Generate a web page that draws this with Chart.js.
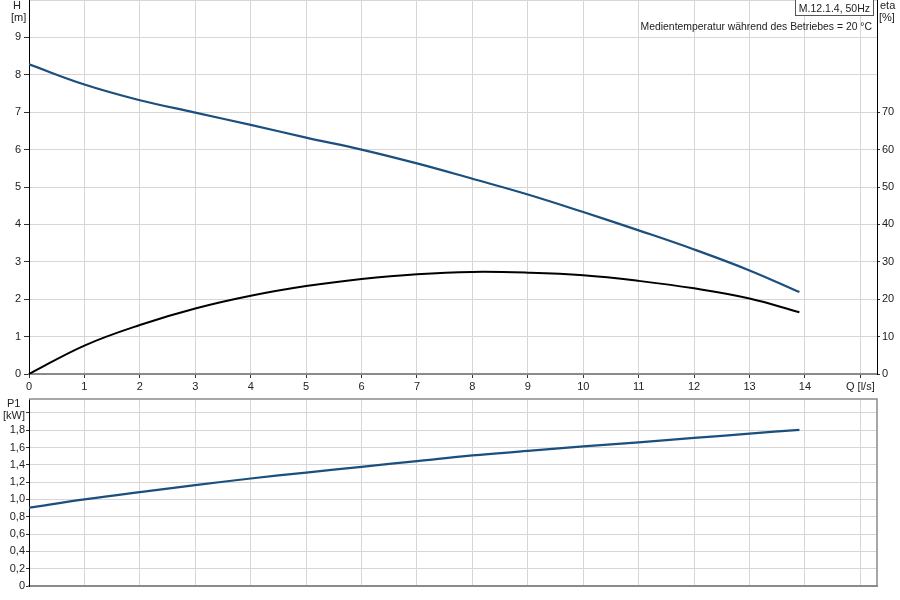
<!DOCTYPE html>
<html>
<head>
<meta charset="utf-8">
<script src="https://cdn.jsdelivr.net/npm/chart.js@4.4.0/dist/chart.umd.min.js"></script>
<style>
  html, body { margin: 0; padding: 0; background: #fff; }
  body { width: 900px; height: 600px; position: relative; overflow: hidden; font-family: "Liberation Sans", Arial, sans-serif; font-size: 11px; color: #222; }
  canvas { position: absolute; left: 0; }
  .lbl { position: absolute; white-space: nowrap; line-height: 11px; font-size: 11px; color: #222; }
  #box { position: absolute; right: 26px; top: -1px; height: 17px; padding: 0 3px; border: 1px solid #555; background: #fff; white-space: nowrap; line-height: 16px; font-size: 10.5px; color: #222; box-sizing: border-box; }
</style>
</head>
<body>
<canvas id="top" width="900" height="395" style="top:0"></canvas>
<canvas id="bot" width="900" height="210" style="top:390px"></canvas>

<div class="lbl" style="left:13px;top:0px">H</div>
<div class="lbl" style="left:11px;top:12px">[m]</div>
<div class="lbl" style="left:880px;top:0px">eta</div>
<div class="lbl" style="left:879px;top:12px">[%]</div>
<div id="box">M.12.1.4, 50Hz</div>
<div class="lbl" style="right:28px;top:21px;font-size:10.4px">Medientemperatur während des Betriebes = 20 °C</div>
<div class="lbl" style="left:7px;top:398px">P1</div>
<div class="lbl" style="left:3px;top:410px">[kW]</div>

<script>
// ---- data ----
const flowQ = [0, 1, 2, 3, 4, 5, 6, 7, 8, 9, 10, 11, 12, 13, 13.9];           // Q [l/s]
const headH = [8.28, 7.74, 7.32, 6.99, 6.66, 6.32, 6.0, 5.63, 5.22, 4.80, 4.33, 3.84, 3.33, 2.77, 2.19]; // H [m]
const effEta = [0, 7.6, 13.1, 17.5, 20.9, 23.5, 25.4, 26.7, 27.3, 27.1, 26.4, 24.9, 22.9, 20.2, 16.5]; // eta [%]
const powerP1 = [0.904, 1.0, 1.085, 1.165, 1.242, 1.31, 1.377, 1.442, 1.508, 1.56, 1.612, 1.66, 1.71, 1.76, 1.804]; // P1 [kW]
const etaTickLabels = [0, 10, 20, 30, 40, 50, 60, 70];

const FONT = { family: '"Liberation Sans", Arial, sans-serif', size: 11 };
const GRID = '#d6d6d6';
const BLUE = '#1b4f7e';

function pts(xs, ys) { return xs.map((x, i) => ({ x: x, y: ys[i] })); }
function fix(w, h) {
  return function (s) {
    if (w !== null) s.width = w;
    if (h !== null) s.height = h;
    s.paddingTop = 0; s.paddingBottom = 0; s.paddingLeft = 0; s.paddingRight = 0;
  };
}

Chart.defaults.font = FONT;
Chart.defaults.color = '#222';

new Chart(document.getElementById('top'), {
  type: 'line',
  data: {
    datasets: [
      { data: pts(flowQ, headH), yAxisID: 'y', borderColor: BLUE, borderWidth: 2.2, pointRadius: 0, tension: 0.4, fill: false },
      { data: pts(flowQ, effEta), yAxisID: 'eta', borderColor: '#000', borderWidth: 2, pointRadius: 0, tension: 0.4, fill: false }
    ]
  },
  options: {
    responsive: false, animation: false, devicePixelRatio: 1,
    layout: { padding: 0 },
    plugins: { legend: { display: false }, tooltip: { enabled: false } },
    scales: {
      x: {
        type: 'linear', min: 0, max: 15.3,
        afterFit: fix(null, 21),
        border: { color: '#8a8a8a', width: 2 },
        grid: { color: GRID, tickColor: '#333', tickLength: 4 },
        ticks: { stepSize: 1, includeBounds: false, padding: 2, maxRotation: 0, autoSkip: false,
          callback: v => v === 15 ? 'Q [l/s]' : String(v) }
      },
      y: {
        type: 'linear', position: 'left', min: 0, max: 10,
        afterFit: fix(29, null),
        border: { color: '#000', width: 1 },
        grid: { color: GRID, tickColor: ctx => (ctx.tick && ctx.tick.value >= 10) ? 'rgba(0,0,0,0)' : '#333', tickLength: 5 },
        ticks: { stepSize: 1, includeBounds: false, padding: 3, callback: v => v === 10 ? '' : String(v) }
      },
      eta: {
        type: 'linear', position: 'right', min: 0, max: 100,
        afterFit: fix(23, null),
        border: { color: '#000', width: 1 },
        grid: { drawOnChartArea: false, tickColor: ctx => (ctx.tick && ctx.tick.value <= 70) ? '#333' : 'rgba(0,0,0,0)', tickLength: 3 },
        ticks: { stepSize: 10, includeBounds: false, padding: 2,
          callback: v => etaTickLabels.includes(v) ? String(v) : '' }
      }
    }
  }
});

const frame = {
  id: 'frame',
  afterDraw(c) {
    const a = c.chartArea, ctx = c.ctx;
    ctx.save();
    ctx.strokeStyle = '#8a8a8a'; ctx.lineWidth = 1.5;
    ctx.beginPath();
    ctx.moveTo(a.left, a.top); ctx.lineTo(a.right, a.top); ctx.lineTo(a.right, a.bottom);
    ctx.stroke();
    ctx.restore();
  }
};

new Chart(document.getElementById('bot'), {
  type: 'line',
  data: {
    datasets: [
      { data: pts(flowQ, powerP1), borderColor: BLUE, borderWidth: 2.2, pointRadius: 0, tension: 0.4, fill: false }
    ]
  },
  options: {
    responsive: false, animation: false, devicePixelRatio: 1,
    layout: { padding: { top: 9, right: 23, left: 0, bottom: 0 } },
    plugins: { legend: { display: false }, tooltip: { enabled: false } },
    scales: {
      x: {
        type: 'linear', min: 0, max: 15.3,
        afterFit: fix(null, 14),
        border: { color: '#8a8a8a', width: 2 },
        grid: { color: GRID, drawTicks: false },
        ticks: { display: false, stepSize: 1, includeBounds: false }
      },
      y: {
        type: 'linear', position: 'left', min: 0, max: 2.16,
        afterFit: fix(29, null),
        border: { color: '#000', width: 1 },
        grid: { color: GRID, tickColor: '#333', tickLength: 3 },
        ticks: { stepSize: 0.2, includeBounds: false, padding: 1,
          callback: v => {
            const r = Math.round(v * 10) / 10;
            if (r === 0) return '0';
            if (r >= 2) return '';
            return r.toFixed(1).replace('.', ',');
          } }
      }
    }
  },
  plugins: [frame]
});
</script>
</body>
</html>
